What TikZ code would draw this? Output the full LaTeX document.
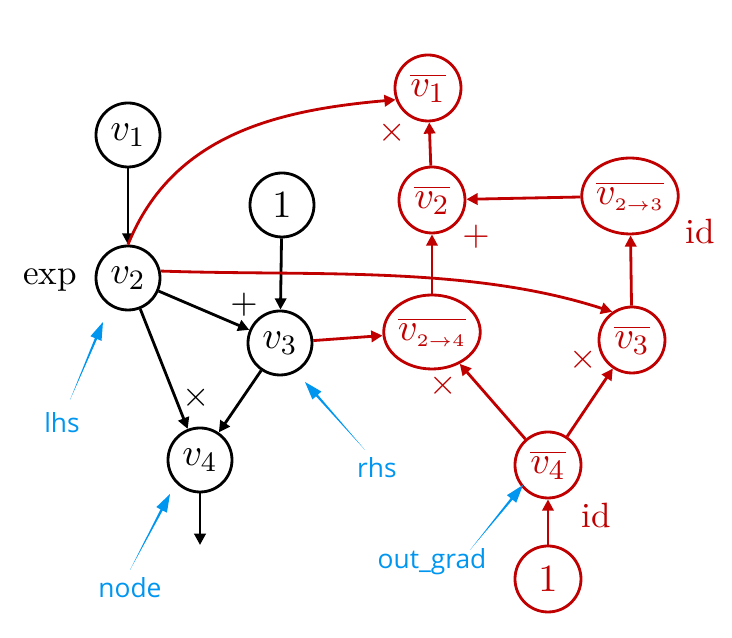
\documentclass[tikz,border=0pt]{standalone}
\usepackage{fontspec}
\newfontfamily\hintfont{Open Sans}
\usetikzlibrary{arrows.meta,positioning,calc,shapes.geometric}

\definecolor{gradred}{RGB}{192,0,0}
\definecolor{hintblue}{RGB}{0,150,240}

% tapered pointer arrow, from tail #1 to tip #2
\newcommand{\taperarrow}[2]{%
  \path ($(#2)!0.18cm!(#1)$) coordinate (hb);
  \fill[hintblue] (#1) -- ($(hb)!0.012cm!90:(#2)$) -- ($(hb)!0.06cm!90:(#2)$)
    -- (#2) -- ($(hb)!0.06cm!-90:(#2)$) -- ($(hb)!0.012cm!-90:(#2)$) -- cycle;}

\begin{document}
\begin{tikzpicture}[
    >={Triangle[length=3.2pt,width=3.2pt]},
    var/.style={circle, draw, line width=0.8pt, minimum size=0.64cm, inner sep=0pt,
      font=\fontsize{11}{13}\selectfont},
    gvar/.style={var, draw=gradred, text=gradred, minimum size=0.66cm},
    gpart/.style={ellipse, draw=gradred, text=gradred, line width=0.8pt,
      minimum width=0.91cm, minimum height=0.76cm, inner sep=0pt,
      font=\fontsize{11}{13}\selectfont},
    fwd/.style={->, line width=0.8pt},
    bwd/.style={->, line width=0.8pt, gradred},
    op/.style={font=\fontsize{10}{12}\selectfont},
    gop/.style={op, text=gradred},
    hint/.style={text=hintblue, font=\hintfont\fontsize{7.5}{9}\selectfont}
  ]
    \useasboundingbox (0,0) rectangle (7.32,6.38);

    % forward graph
    \node[var] (v1) at (1.28,5.03) {$v_1$};
    \node[var] (v2) at (1.28,3.60) {$v_2$};
    \node[var] (one) at (2.82,4.33) {$1$};
    \node[var] (v3) at (2.80,2.95) {$v_3$};
    \node[var] (v4) at (2.00,1.78) {$v_4$};
    \coordinate (out) at (2.00,0.93);

    \node[op] (expop) at (0.50,3.58) {exp};
    \node[op] (addop) at (2.44,3.33) {$+$};
    \node[op] (mulop) at (1.96,2.40) {$\times$};

    \draw[fwd] (v1) -- (v2);
    \draw[fwd] (v2) -- (v3);
    \draw[fwd] (v2) -- (v4);
    \draw[fwd] (one) -- (v3);
    \draw[fwd] (v3) -- (v4);
    \draw[fwd] (v4) -- (out);

    % backward graph
    \node[gvar] (v1b) at (4.28,5.50) {$\overline{v_1}$};
    \node[gvar] (v2b) at (4.32,4.38) {$\overline{v_2}$};
    \node[gpart] (v23b) at (6.30,4.42) {$\overline{v_{\scriptscriptstyle 2\to 3}}$};
    \node[gpart, minimum height=0.74cm] (v24b) at (4.32,3.06) {$\overline{v_{\scriptscriptstyle 2\to 4}}$};
    \node[gvar] (v3b) at (6.32,2.98) {$\overline{v_3}$};
    \node[gvar] (v4b) at (5.48,1.73) {$\overline{v_4}$};
    \node[gvar] (oneb) at (5.48,0.59) {$1$};

    \node[gop] (mulb1) at (3.92,5.05) {$\times$};
    \node[gop] (addb) at (4.76,4.01) {$+$};
    \node[gop] (idb1) at (7.00,4.06) {id};
    \node[gop] (mulb2) at (4.43,2.52) {$\times$};
    \node[gop] (mulb3) at (5.83,2.78) {$\times$};
    \node[gop] (idb2) at (5.96,1.22) {id};

    \draw[bwd] (v2b) -- (v1b);
    \draw[bwd] (v23b) -- (v2b);
    \draw[bwd] (v3b) -- (v23b);
    \draw[bwd] (v24b) -- (v2b);
    \draw[bwd] (v4b) -- (v24b);
    \draw[bwd] (v4b) -- (v3b);
    \draw[bwd] (oneb) -- (v4b);
    \draw[bwd] (v3) -- (v24b);
    \draw[bwd] (v2.north) to[out=68, in=185] (v1b.200);
    \draw[bwd] (v2.12) to[out=-2, in=162, looseness=0.85] (v3b.125);

    % pointers
    \node[hint] (lhs) at (0.62,2.15) {lhs};
    \node[hint] (rhs) at (3.77,1.70) {rhs};
    \node[hint] (nodelbl) at (1.30,0.50) {node};
    \node[hint] (outgrad) at (4.32,0.76) {out\_grad};

    \coordinate (lhstail) at (0.70,2.38);
    \coordinate (lhstip) at (1.03,3.16);
    \coordinate (rhstail) at (3.65,1.88);
    \coordinate (rhstip) at (3.05,2.56);
    \coordinate (nodetail) at (1.30,0.68);
    \coordinate (nodetip) at (1.70,1.44);
    \coordinate (gradtail) at (4.70,0.88);
    \coordinate (gradtip) at (5.23,1.53);

    \taperarrow{lhstail}{lhstip}
    \taperarrow{rhstail}{rhstip}
    \taperarrow{nodetail}{nodetip}
    \taperarrow{gradtail}{gradtip}
\end{tikzpicture}
\end{document}
